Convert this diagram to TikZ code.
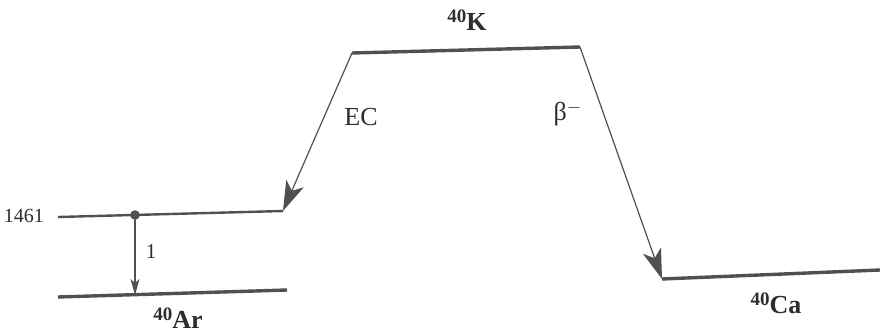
\documentclass[tikz,border=0pt]{standalone}
\usepackage{fontspec}
\setmainfont{Liberation Serif}
\usepackage{xcolor}
\usepackage{tikz}
\usetikzlibrary{arrows.meta, positioning}
\definecolor{levelgray}{RGB}{80,80,80}
\definecolor{textgray}{RGB}{45,45,45}
\newcommand{\isotope}[2]{\raisebox{4pt}{\fontsize{9.5}{11}\selectfont #1}#2}

\begin{document}
\begin{tikzpicture}[
    x=0.5pt, y=-0.5pt,
    level/.style={draw=levelgray, line width=1.7pt},
    decay/.style={draw=levelgray, line width=0.6pt, -{Stealth[length=15pt, width=9.5pt, inset=4pt]}},
    gamma/.style={draw=levelgray, line width=0.6pt, -{Stealth[length=8pt, width=4.5pt, inset=2pt]}},
    nuclide/.style={font=\fontsize{13}{15}\selectfont\bfseries, text=textgray},
    tag/.style={font=\fontsize{13}{15}\selectfont, text=textgray}
]
\useasboundingbox (0,0) rectangle (880,333);

% level end points
\coordinate (kL) at (352,53);
\coordinate (kR) at (580,47);
\coordinate (exL) at (58,217);
\coordinate (exR) at (283,211);
\coordinate (arL) at (58,297);
\coordinate (arR) at (287,290);
\coordinate (caL) at (662,279);
\coordinate (caR) at (880,270);
\coordinate (gTop) at (135,215);
\coordinate (gBot) at (135,295);

% levels
\draw[level] (kL) -- (kR);
\draw[level, line width=1.2pt] (exL) -- (exR);
\draw[level] (arL) -- (arR);
\draw[level] (caL) -- (caR);

% decays
\draw[decay] (kL) -- (exR);
\draw[decay] (kR) -- (caL);
\draw[gamma] (gTop) -- (gBot);
\fill[levelgray] (gTop) circle (2.4pt);

% labels
\node[nuclide] (k40) at (467,20) {\isotope{40}{K}};
\node[nuclide] (ar40) at (178,318) {\isotope{40}{Ar}};
\node[nuclide] (ca40) at (776,303) {\isotope{40}{Ca}};
\node[tag] (ec) at (361,117) {EC};
\node[tag] (beta) at (568,114) {β\textsuperscript{$-$}};
\node[tag, anchor=east, font=\fontsize{10}{12}\selectfont] (e1461) at (51,216) {1461};
\node[tag, font=\fontsize{10.5}{12}\selectfont] (g1) at (151,252) {1};
\end{tikzpicture}
\end{document}
